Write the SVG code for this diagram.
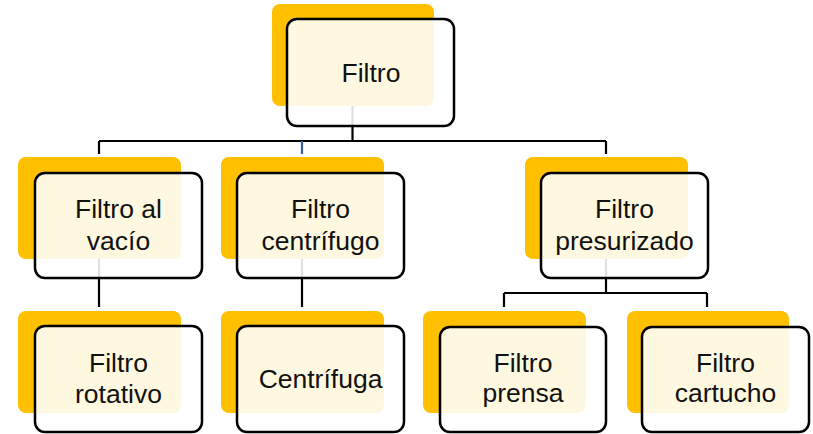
<svg xmlns="http://www.w3.org/2000/svg" width="813" height="434" viewBox="0 0 813 434">
<style>
.bg{fill:#FFC000}
.fg{fill:#FFFFFF;fill-opacity:0.88;stroke:#000;stroke-width:2.5}
.ln{fill:none;stroke:#000;stroke-width:2.2}
.t{font-family:"Liberation Sans",Arial,sans-serif;font-size:26.5px;fill:#111;text-anchor:middle}
</style>
<rect width="813" height="434" fill="#fff"/>
<g id="connectors">
<path class="ln" d="M352.5,106 V141 M99,141 H606 M99,141 V154 M606,141 V154"/>
<path d="M302,141 V154" fill="none" stroke="#3A5BA0" stroke-width="2.2"/>
<path class="ln" d="M99,259 V307 M302,259 V307"/>
<path class="ln" d="M606,259 V293 M504,293 H707 M504,293 V307 M707,293 V307"/>
</g>
<g id="n-filtro">
<rect class="bg" x="272" y="4" width="162" height="102" rx="8"/>
<rect class="fg" x="287" y="19" width="167" height="107" rx="10"/>
<text class="t" x="371" y="82">Filtro</text>
</g>
<g id="n-vacio">
<rect class="bg" x="18" y="157" width="163" height="102" rx="8"/>
<rect class="fg" x="35" y="173" width="167" height="105" rx="10"/>
<text class="t" x="118.5" y="218">Filtro al</text>
<text class="t" x="118.5" y="250">vacío</text>
</g>
<g id="n-centrifugo">
<rect class="bg" x="221" y="157" width="163" height="102" rx="8"/>
<rect class="fg" x="237" y="173" width="167" height="105" rx="10"/>
<text class="t" x="320.5" y="218">Filtro</text>
<text class="t" x="320.5" y="250">centrífugo</text>
</g>
<g id="n-presurizado">
<rect class="bg" x="525" y="157" width="163" height="102" rx="8"/>
<rect class="fg" x="541" y="173" width="167" height="105" rx="10"/>
<text class="t" x="624.5" y="218">Filtro</text>
<text class="t" x="624.5" y="250">presurizado</text>
</g>
<g id="n-rotativo">
<rect class="bg" x="18" y="311" width="163" height="102" rx="8"/>
<rect class="fg" x="35" y="326" width="167" height="106" rx="10"/>
<text class="t" x="118.5" y="372">Filtro</text>
<text class="t" x="118.5" y="403">rotativo</text>
</g>
<g id="n-centrifuga">
<rect class="bg" x="221" y="311" width="163" height="102" rx="8"/>
<rect class="fg" x="237" y="326" width="167" height="106" rx="10"/>
<text class="t" x="320.5" y="388">Centrífuga</text>
</g>
<g id="n-prensa">
<rect class="bg" x="423" y="311" width="163" height="102" rx="8"/>
<rect class="fg" x="440" y="327" width="166" height="105" rx="10"/>
<text class="t" x="523" y="372">Filtro</text>
<text class="t" x="523" y="402">prensa</text>
</g>
<g id="n-cartucho">
<rect class="bg" x="627" y="311" width="162" height="102" rx="8"/>
<rect class="fg" x="642" y="327" width="167" height="105" rx="10"/>
<text class="t" x="725.5" y="372">Filtro</text>
<text class="t" x="725.5" y="402">cartucho</text>
</g>
</svg>
